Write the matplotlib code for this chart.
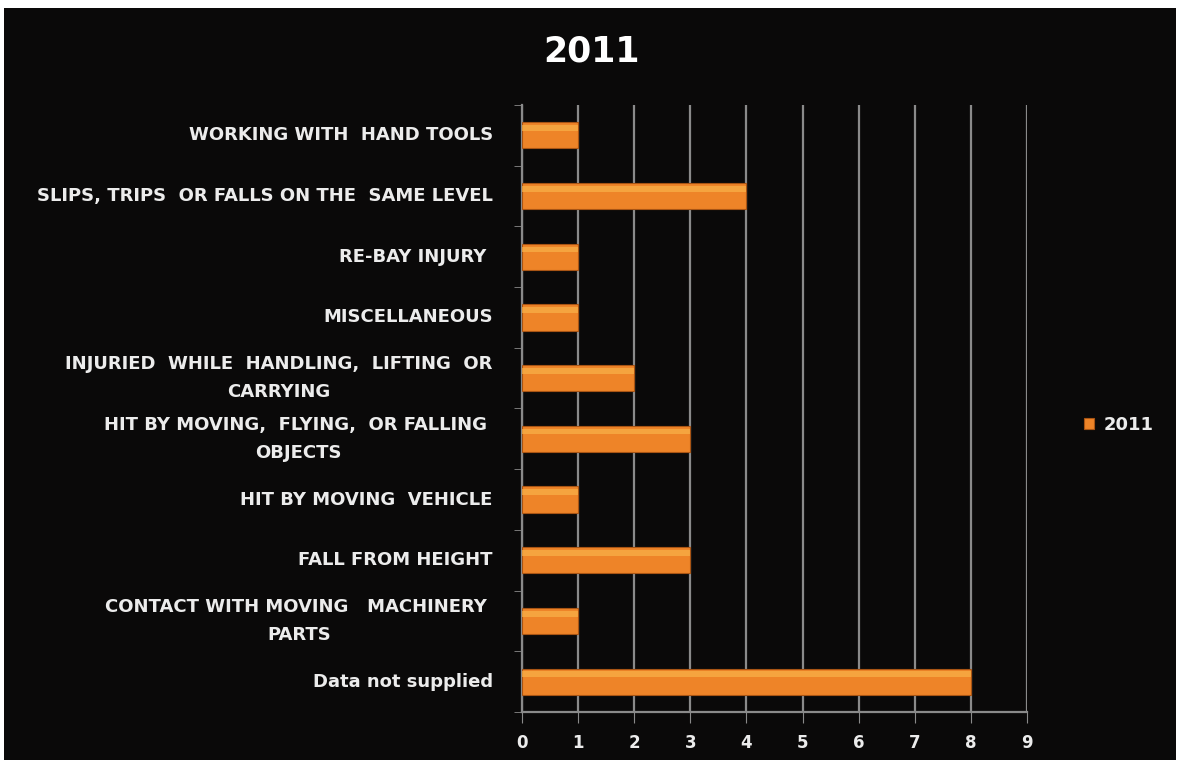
import matplotlib
matplotlib.use('Agg')
from matplotlib import pyplot as plt
from matplotlib.patches import Rectangle
import numpy as np

# categories, bottom to top
CATEGORIES = ['Data not supplied',
              'CONTACT WITH MOVING   MACHINERY \nPARTS',
              'FALL FROM HEIGHT',
              'HIT BY MOVING  VEHICLE',
              'HIT BY MOVING,  FLYING,  OR FALLING \nOBJECTS',
              'INJURIED  WHILE  HANDLING,  LIFTING  OR\nCARRYING',
              'MISCELLANEOUS',
              'RE-BAY INJURY ',
              'SLIPS, TRIPS  OR FALLS ON THE  SAME LEVEL',
              'WORKING WITH  HAND TOOLS']
VALUES_2011 = [8, 1, 3, 1, 3, 2, 1, 1, 4, 1]
SERIES_NAME = '2011'
XTICKS = list(range(0, 10))

BG = '#0a0909'
TXT = '#ececec'
GRID = '#8a8a8a'
BAR = '#ee8428'
BAR_LIGHT = '#f8b24a'

fig = plt.figure(figsize = (11.77, 7.60), dpi = 100)
fig.patch.set_facecolor('white')
fig.patches.append(Rectangle((4 / 1177, 0), 1 - 5 / 1177, 1 - 8 / 760,
                             transform = fig.transFigure, facecolor = BG,
                             edgecolor = 'none', zorder = -10))

ax = fig.add_axes([522 / 1177, 1 - 712 / 760, 505 / 1177, 607 / 760])
ax.set_facecolor(BG)

y = np.arange(len(CATEGORIES))
bar_h = 0.43
ax.barh(y, VALUES_2011, height = bar_h, color = BAR, edgecolor = '#a85414',
        linewidth = 0.8, zorder = 3, label = SERIES_NAME)
# light highlight along the top of each bar
ax.barh(y + bar_h * 0.28, VALUES_2011, height = bar_h * 0.22, color = BAR_LIGHT,
        edgecolor = 'none', alpha = 0.7, zorder = 4)

ax.set_xlim(0, 9)
ax.set_ylim(-0.5, len(CATEGORIES) - 0.5)

ax.set_xticks(XTICKS)
ax.set_xticklabels([str(t) for t in XTICKS], fontsize = 12,
                   fontweight = 'bold', color = TXT)
ax.set_yticks(y)
ax.set_yticklabels(CATEGORIES, fontsize = 13, fontweight = 'bold',
                   color = TXT, multialignment = 'center', linespacing = 1.7,
                   va = 'center')
ax.set_yticks(np.arange(-0.5, len(CATEGORIES)), minor = True)

ax.tick_params(axis = 'y', which = 'major', length = 0, pad = 21)
ax.tick_params(axis = 'y', which = 'minor', length = 6, color = GRID,
               direction = 'out')
ax.tick_params(axis = 'x', which = 'major', length = 8, color = GRID,
               direction = 'out', pad = 8)

ax.grid(True, axis = 'x', color = GRID, linewidth = 1.6, zorder = 1)
for side in ['top', 'right']:
  ax.spines[side].set_visible(False)
for side in ['left', 'bottom']:
  ax.spines[side].set_color(GRID)
  ax.spines[side].set_linewidth(1.6)

fig.text(592 / 1177, 1 - 52 / 760, SERIES_NAME, fontsize = 25,
         fontweight = 'bold', color = 'white', ha = 'center', va = 'center')

leg = ax.legend(loc = 'center left', bbox_to_anchor = (1.08, 0.473),
                frameon = False, fontsize = 13, handlelength = 0.6,
                handleheight = 0.6, handletextpad = 0.5)
for t in leg.get_texts():
  t.set_color(TXT)
  t.set_fontweight('bold')

fig.savefig('out.png', dpi = 100, facecolor = fig.get_facecolor())
